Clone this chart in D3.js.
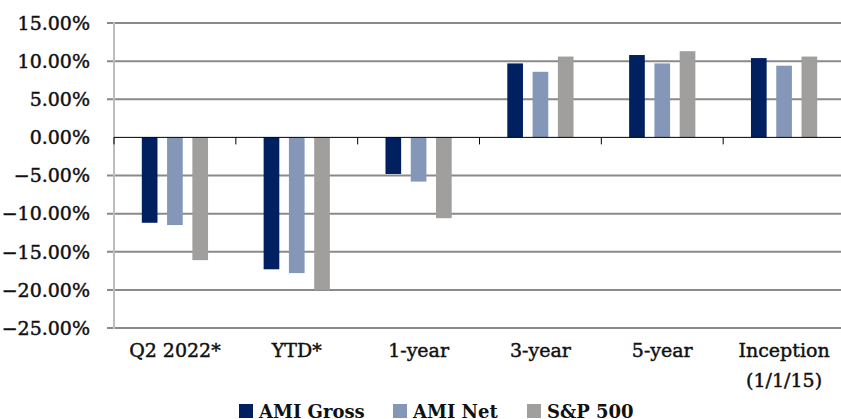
<!DOCTYPE html>
<html>
<head>
<meta charset="utf-8">
<script src="https://cdn.jsdelivr.net/npm/d3@7"></script>
<style>
  html, body { margin: 0; padding: 0; background: #fff; }
  svg { display: block; }
  text { font-family: "DejaVu Serif", serif; fill: #111; }
  .lbl { stroke: #111; stroke-width: 0.45px; }
</style>
</head>
<body>
<svg id="chart" width="841" height="419"></svg>
<script>
const categories = ["Q2 2022*", "YTD*", "1-year", "3-year", "5-year", "Inception\n(1/1/15)"];
const seriesNames = ["AMI Gross", "AMI Net", "S&P 500"];
const amiGross = [-11.2, -17.3, -4.8, 9.7, 10.8, 10.4];
const amiNet = [-11.5, -17.8, -5.8, 8.6, 9.7, 9.4];
const sp500 = [-16.1, -20.0, -10.6, 10.6, 11.3, 10.6];
const yTicks = [15, 10, 5, 0, -5, -10, -15, -20, -25];
const colors = ["#002060", "#8497B8", "#A09F9D"];

const series = [amiGross, amiNet, sp500];
const svg = d3.select("#chart");
const m = { left: 114, right: 845, top: 23, bottom: 328 };

const x = d3.scaleBand().domain(categories).range([m.left, m.right]).paddingInner(0).paddingOuter(0);
const y = d3.scaleLinear().domain([-25, 15]).range([m.bottom, m.top]);

// gridlines
svg.append("g").selectAll("line").data(yTicks).join("line")
  .attr("x1", m.left - 7).attr("x2", 841)
  .attr("y1", d => y(d)).attr("y2", d => y(d))
  .attr("stroke", d => d === 0 ? "none" : "#8a8a8a").attr("stroke-width", 2);

// y axis line
svg.append("line").attr("x1", m.left).attr("x2", m.left)
  .attr("y1", m.top - 1).attr("y2", m.bottom + 1)
  .attr("stroke", "#bdbdbd").attr("stroke-width", 2);

// y labels
svg.append("g").selectAll("text").data(yTicks).join("text")
  .attr("class", "lbl")
  .attr("x", 90).attr("y", d => y(d)).attr("dy", "0.36em")
  .attr("text-anchor", "end").attr("font-size", 19)
  .text(d => d3.format(".2f")(d) + "%");

// bars
const inner = d3.scaleBand().domain(d3.range(series.length)).range([0, x.bandwidth()]).paddingInner(0.38).paddingOuter(1.1);
const gBars = svg.append("g");
series.forEach((vals, si) => {
  gBars.selectAll(null).data(vals).join("rect")
    .attr("x", (d, i) => x(categories[i]) + inner(si))
    .attr("width", inner.bandwidth())
    .attr("y", d => y(Math.max(0, d)))
    .attr("height", d => Math.abs(y(d) - y(0)))
    .attr("fill", colors[si]);
});

// zero line and ticks
svg.append("line").attr("x1", m.left).attr("x2", 841)
  .attr("y1", y(0)).attr("y2", y(0)).attr("stroke", "#000").attr("stroke-width", 1);
svg.append("g").selectAll("line").data(categories.concat(["__end"])).join("line")
  .attr("x1", (d, i) => m.left + i * x.step()).attr("x2", (d, i) => m.left + i * x.step())
  .attr("y1", y(0)).attr("y2", y(0) + 7).attr("stroke", "#000").attr("stroke-width", 1);

// x labels
const xl = svg.append("g").selectAll("text").data(categories).join("text")
  .attr("class", "lbl")
  .attr("x", d => x(d) + x.bandwidth() / 2).attr("y", 357)
  .attr("text-anchor", "middle").attr("font-size", 19);
xl.each(function(d) {
  const lines = d.split("\n");
  lines.forEach((l, i) => d3.select(this).append("tspan")
    .attr("x", x(d) + x.bandwidth() / 2).attr("dy", i === 0 ? 0 : 30).text(l));
});

// legend
const legX = [239, 393, 527];
const leg = svg.append("g");
seriesNames.forEach((n, i) => {
  leg.append("rect").attr("x", legX[i]).attr("y", 404).attr("width", 14).attr("height", 14).attr("fill", colors[i]);
  leg.append("text").attr("x", legX[i] + 20).attr("y", 417.5).attr("font-size", 18).attr("font-weight", "bold").text(n);
});
</script>
</body>
</html>
